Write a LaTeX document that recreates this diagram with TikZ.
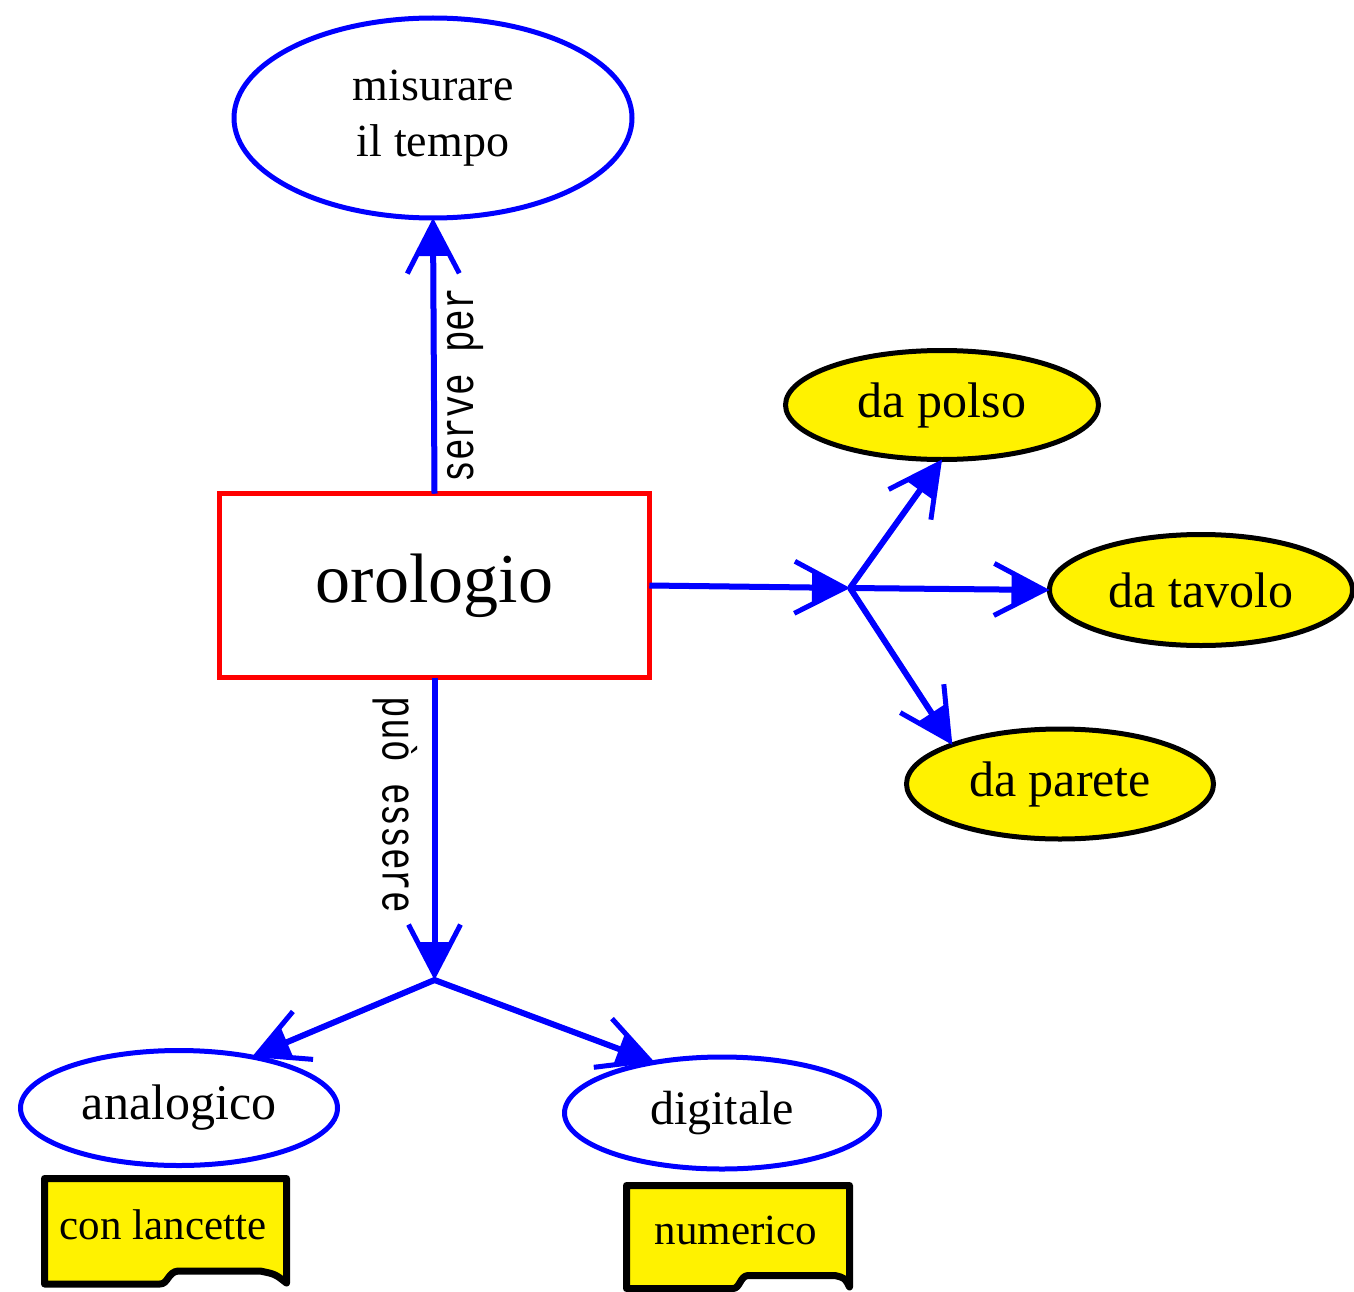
\documentclass[tikz,border=0pt]{standalone}
\usepackage{fontspec}
\setmainfont{Liberation Serif}
\newfontfamily\monof{Liberation Mono}
\usetikzlibrary{shapes.geometric,arrows.meta}
\begin{document}
\begin{tikzpicture}[x=1pt,y=-1pt,
  blueell/.style={ellipse,draw=blue,line width=5pt,inner sep=0pt,outer sep=0pt},
  yelell/.style={ellipse,draw=black,fill=yellow,line width=5pt,inner sep=0pt,outer sep=0pt,font=\fontsize{50}{56}\selectfont},
  conn/.style={draw=blue,line width=6pt,-{Triangle[length=38pt,width=32pt]}},
  barbs/.style={draw=blue,line width=5pt,-{Straight Barb[length=50pt,width=52pt,line width=5pt]}},
  docbox/.style={draw=black,fill=yellow,line width=7pt,line join=round},
  rotlabel/.style={font=\monof\fontsize{36}{36}\selectfont,inner sep=0pt}
]
\useasboundingbox (0,0) rectangle (1354,1292);

% nodes
\node[blueell,minimum width=398pt,minimum height=200pt,align=center,font=\fontsize{46}{56}\selectfont] (mis) at (433,118) {misurare\\il tempo};
\node[draw=red,line width=5pt,minimum width=430pt,minimum height=184pt,inner sep=0pt,outer sep=0pt,font=\fontsize{70}{80}\selectfont] (oro) at (434.5,585.5) {orologio};

\node[yelell,minimum width=313pt,minimum height=109pt] (polso) at (942,405) {da polso};
\node[yelell,minimum width=303pt,minimum height=111pt] (tavolo) at (1201,590) {da tavolo};
\node[yelell,minimum width=307pt,minimum height=110pt] (parete) at (1060,784) {da parete};

\node[blueell,minimum width=317pt,minimum height=115pt,font=\fontsize{50}{56}\selectfont] (ana) at (179,1108) {analogico};
\node[blueell,minimum width=315pt,minimum height=112pt,font=\fontsize{48}{56}\selectfont] (dig) at (722,1113) {digitale};

% document shaped boxes
\draw[docbox] (44.5,1178.5) -- (286.5,1178.5) -- (286.5,1283)
  .. controls (275,1274) .. (260,1271) -- (178,1271)
  .. controls (168,1272) and (168,1284) .. (160,1284) -- (44.5,1284) -- cycle;
\node[font=\fontsize{43}{48}\selectfont] (lanc) at (163,1225) {con lancette};

\draw[docbox] (626.5,1185.5) -- (849.5,1185.5) -- (849.5,1287)
  .. controls (845,1278) .. (835,1275.5) -- (748,1275.5)
  .. controls (740,1276) and (740,1288.5) .. (733,1288.5) -- (626.5,1288.5) -- cycle;
\node[font=\fontsize{43}{48}\selectfont] (num) at (736,1230) {numerico};

% labels
\node[rotlabel,rotate=90] (sp) at (465,385) {\scalebox{1}[1.35]{serve per}};
\node[rotlabel,rotate=-90] (pe) at (395,805) {\scalebox{1}[1.35]{può essere}};

% connectors
\coordinate (b1) at (850,588);
\coordinate (b2) at (434.5,980);
\foreach \st in {barbs,conn}{
  \draw[\st] (oro.north) -- (mis.south);
  \draw[\st] (oro.south) -- (b2);
  \draw[\st] (b2) -- (ana.35);
  \draw[\st] (b2) -- (dig.143);
  \draw[\st] (oro.east) -- (b1);
  \draw[\st] (b1) -- (polso.south);
  \draw[\st] (b1) -- (tavolo.west);
  \draw[\st] (b1) -- (parete.160);
}
\end{tikzpicture}
\end{document}
